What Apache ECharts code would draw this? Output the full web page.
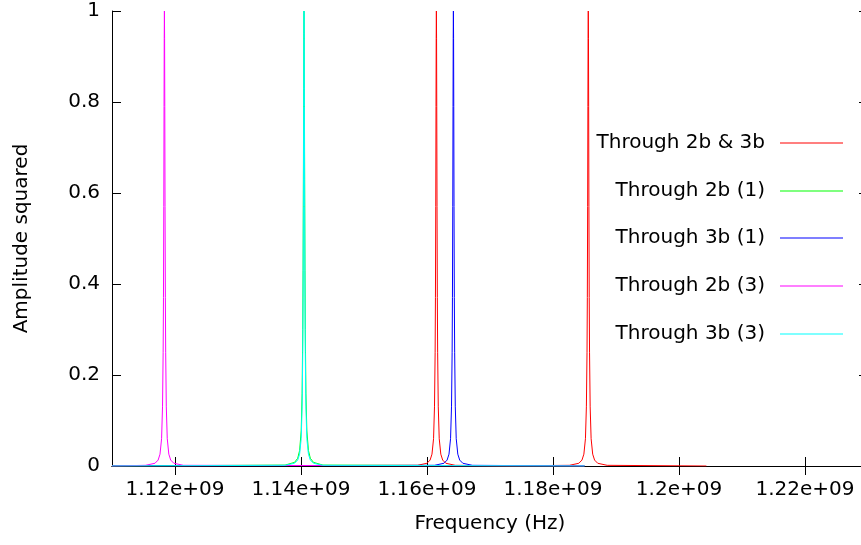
<!DOCTYPE html>
<html>
<head>
<meta charset="utf-8">
<script src="https://cdn.jsdelivr.net/npm/echarts@6/dist/echarts.min.js"></script>
<style>
  html, body { margin: 0; padding: 0; background: #fff; overflow: hidden; }
  /* the plot frame runs a few pixels past the right edge of the page */
  #chart { width: 868px; height: 545px; }
</style>
</head>
<body>
<div id="chart"></div>
<script>
// Series names as shown in the key
const seriesNames = ['Through 2b & 3b', 'Through 2b (1)', 'Through 3b (1)', 'Through 2b (3)', 'Through 3b (3)'];
const seriesColors = ['#ff0000', '#00ff00', '#0000ff', '#ff00ff', '#00ffff'];

// Frequency axis ticks
const xTickValues = [1.12e9, 1.14e9, 1.16e9, 1.18e9, 1.2e9, 1.22e9];
const xTickLabels = ['1.12e+09', '1.14e+09', '1.16e+09', '1.18e+09', '1.2e+09', '1.22e+09'];
const yTickLabels = ['0', '0.2', '0.4', '0.6', '0.8', '1'];

// Transmission through both branches: two resonances (Hz, amplitude squared)
const through2b3b = [
  [1110.00e6, 0], [1158.49e6, 0.0015], [1159.99e6, 0.006], [1160.49e6, 0.013], [1160.79e6, 0.026],
  [1161.04e6, 0.06], [1161.19e6, 0.13], [1161.29e6, 0.25], [1161.34e6, 0.37], [1161.39e6, 0.57],
  [1161.43e6, 0.79], [1161.46e6, 0.94], [1161.49e6, 1], [1161.52e6, 0.94], [1161.55e6, 0.79],
  [1161.59e6, 0.57], [1161.64e6, 0.37], [1161.69e6, 0.25], [1161.79e6, 0.13], [1161.94e6, 0.06],
  [1162.19e6, 0.026], [1162.49e6, 0.013], [1162.99e6, 0.006], [1164.49e6, 0.0015],
  [1173.00e6, 0.0003],
  [1182.60e6, 0.0015], [1184.10e6, 0.006], [1184.60e6, 0.013], [1184.90e6, 0.026],
  [1185.15e6, 0.06], [1185.30e6, 0.13], [1185.40e6, 0.25], [1185.45e6, 0.37], [1185.50e6, 0.57],
  [1185.54e6, 0.79], [1185.57e6, 0.94], [1185.60e6, 1], [1185.63e6, 0.94], [1185.66e6, 0.79],
  [1185.70e6, 0.57], [1185.75e6, 0.37], [1185.80e6, 0.25], [1185.90e6, 0.13], [1186.05e6, 0.06],
  [1186.30e6, 0.026], [1186.60e6, 0.013], [1187.10e6, 0.006], [1188.60e6, 0.0015],
  [1204.35e6, 0]
];

// Branch 2b, first resonance (sits under the 3b (3) peak)
const through2b1 = [
  [1110.00e6, 0], [1137.48e6, 0.002], [1138.98e6, 0.008], [1139.48e6, 0.017], [1139.78e6, 0.034],
  [1140.03e6, 0.077], [1140.18e6, 0.16], [1140.28e6, 0.30], [1140.33e6, 0.43], [1140.38e6, 0.63],
  [1140.42e6, 0.83], [1140.45e6, 0.95], [1140.48e6, 1], [1140.51e6, 0.95], [1140.54e6, 0.83],
  [1140.58e6, 0.63], [1140.63e6, 0.43], [1140.68e6, 0.30], [1140.78e6, 0.16], [1140.93e6, 0.077],
  [1141.18e6, 0.034], [1141.48e6, 0.017], [1141.98e6, 0.008], [1143.48e6, 0.002],
  [1185.00e6, 0]
];

// Branch 3b, first resonance
const through3b1 = [
  [1110.00e6, 0], [1161.19e6, 0.0015], [1162.69e6, 0.006], [1163.19e6, 0.013], [1163.49e6, 0.026],
  [1163.74e6, 0.06], [1163.89e6, 0.13], [1163.99e6, 0.25], [1164.04e6, 0.37], [1164.09e6, 0.57],
  [1164.13e6, 0.79], [1164.16e6, 0.94], [1164.19e6, 1], [1164.22e6, 0.94], [1164.25e6, 0.79],
  [1164.29e6, 0.57], [1164.34e6, 0.37], [1164.39e6, 0.25], [1164.49e6, 0.13], [1164.64e6, 0.06],
  [1164.89e6, 0.026], [1165.19e6, 0.013], [1165.69e6, 0.006], [1167.19e6, 0.0015],
  [1185.00e6, 0]
];

// Branch 2b, third resonance
const through2b3 = [
  [1110.00e6, 0], [1115.32e6, 0.0015], [1116.82e6, 0.006], [1117.32e6, 0.013], [1117.62e6, 0.026],
  [1117.87e6, 0.06], [1118.02e6, 0.13], [1118.12e6, 0.25], [1118.17e6, 0.37], [1118.22e6, 0.57],
  [1118.26e6, 0.79], [1118.29e6, 0.94], [1118.32e6, 1], [1118.35e6, 0.94], [1118.38e6, 0.79],
  [1118.42e6, 0.57], [1118.47e6, 0.37], [1118.52e6, 0.25], [1118.62e6, 0.13], [1118.77e6, 0.06],
  [1119.02e6, 0.026], [1119.32e6, 0.013], [1119.82e6, 0.006], [1121.32e6, 0.0015],
  [1185.00e6, 0]
];

// Branch 3b, third resonance
const through3b3 = [
  [1110.00e6, 0], [1137.48e6, 0.0015], [1138.98e6, 0.006], [1139.48e6, 0.013], [1139.78e6, 0.026],
  [1140.03e6, 0.06], [1140.18e6, 0.13], [1140.28e6, 0.25], [1140.33e6, 0.37], [1140.38e6, 0.57],
  [1140.42e6, 0.79], [1140.45e6, 0.94], [1140.48e6, 1], [1140.51e6, 0.94], [1140.54e6, 0.79],
  [1140.58e6, 0.57], [1140.63e6, 0.37], [1140.68e6, 0.25], [1140.78e6, 0.13], [1140.93e6, 0.06],
  [1141.18e6, 0.026], [1141.48e6, 0.013], [1141.98e6, 0.006], [1143.48e6, 0.0015],
  [1185.00e6, 0]
];

const seriesData = [through2b3b, through2b1, through3b1, through2b3, through3b3];

const FONT = 'DejaVu Sans';
const X_MIN = 1.11e9, X_MAX = 1.23e9;

function xLabel(v) {
  let best = 0;
  for (let i = 1; i < xTickValues.length; i++) {
    if (Math.abs(xTickValues[i] - v) < Math.abs(xTickValues[best] - v)) best = i;
  }
  return xTickLabels[best];
}

const chart = echarts.init(document.getElementById('chart'), null, { renderer: 'canvas' });

const axisLine = { show: true, lineStyle: { color: '#000', width: 1 } };
const tickStyle = { show: true, inside: true, length: 9, lineStyle: { color: '#000', width: 1 } };

// One key entry per row, each right-aligned with its line sample on the right
const legendCenters = [143, 191, 238, 286, 334];
const legends = seriesNames.map((name, i) => ({
  data: [name],
  orient: 'vertical',
  right: 25,
  top: legendCenters[i] - 10,
  padding: 0,
  align: 'right',
  icon: 'rect',
  itemWidth: 63,
  itemHeight: 1,
  selectedMode: false,
  textStyle: { fontFamily: FONT, fontSize: 20, color: '#000', lineHeight: 20, padding: [0, 10, 0, 0] }
}));

chart.setOption({
  animation: false,
  backgroundColor: '#fff',
  grid: { left: 112, right: 0, top: 11, bottom: 79, containLabel: false },
  legend: legends,
  xAxis: [
    {
      type: 'value', min: X_MIN, max: X_MAX, position: 'bottom', z: 3,
      axisLine, splitLine: { show: false },
      axisTick: Object.assign({ customValues: xTickValues }, tickStyle),
      axisLabel: { customValues: xTickValues, formatter: xLabel, fontFamily: FONT, fontSize: 20, color: '#000', margin: 14 },
      name: 'Frequency (Hz)', nameLocation: 'middle', nameGap: 48,
      nameTextStyle: { fontFamily: FONT, fontSize: 20, color: '#000' }
    },
    {
      type: 'value', min: X_MIN, max: X_MAX, position: 'top',
      axisLine, splitLine: { show: false },
      axisTick: Object.assign({ customValues: xTickValues }, tickStyle),
      axisLabel: { show: false }
    }
  ],
  yAxis: [
    {
      type: 'value', min: 0, max: 1, interval: 0.2, position: 'left',
      axisLine, splitLine: { show: false }, axisTick: tickStyle,
      axisLabel: { formatter: v => yTickLabels[Math.round(v * 5)], fontFamily: FONT, fontSize: 20, color: '#000', margin: 12 },
      name: 'Amplitude squared', nameLocation: 'middle', nameGap: 80,
      nameTextStyle: { fontFamily: FONT, fontSize: 20, color: '#000' }
    },
    {
      type: 'value', min: 0, max: 1, interval: 0.2, position: 'right',
      axisLine, splitLine: { show: false }, axisTick: tickStyle,
      axisLabel: { show: false }
    }
  ],
  series: seriesNames.map((name, i) => ({
    name,
    type: 'line',
    xAxisIndex: 0,
    yAxisIndex: 0,
    data: seriesData[i],
    symbol: 'none',
    clip: true,
    color: seriesColors[i],
    lineStyle: { color: seriesColors[i], width: 1 },
    emphasis: { disabled: true }
  }))
});
</script>
</body>
</html>
